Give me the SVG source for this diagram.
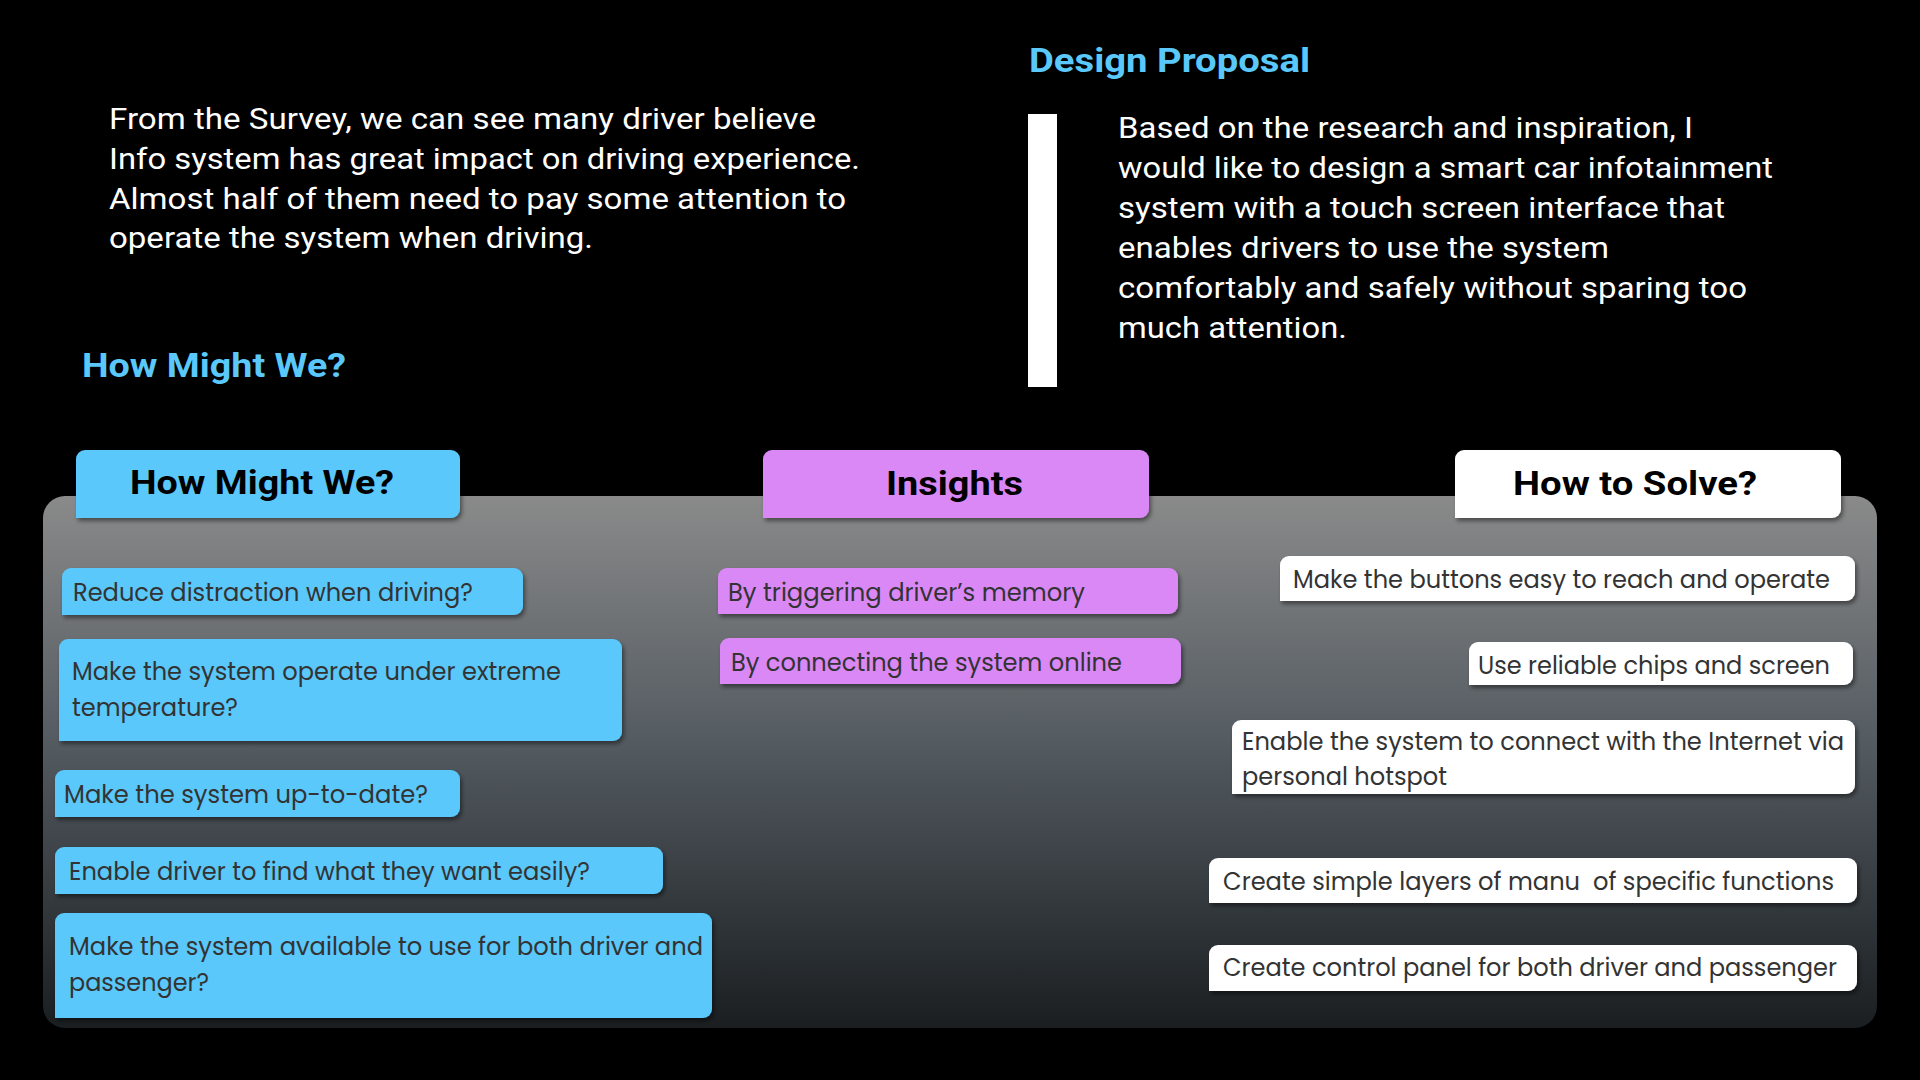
<svg xmlns="http://www.w3.org/2000/svg" width="1920" height="1080" viewBox="0 0 1920 1080">
<defs>
<linearGradient id="panelGrad" x1="0" y1="0" x2="0" y2="1">
<stop offset="0" stop-color="#8a8a8a"/>
<stop offset="0.45" stop-color="#555c62"/>
<stop offset="1" stop-color="#1a1e21"/>
</linearGradient>
<filter id="sh" x="-5%" y="-20%" width="115%" height="150%">
<feDropShadow dx="2" dy="3" stdDeviation="2" flood-color="#000" flood-opacity="0.45"/>
</filter>
</defs>
<style>
.body{font-family:"Roboto","Liberation Sans",sans-serif;font-size:29px;fill:#ffffff;font-weight:400}
.title{font-family:"Roboto","Liberation Sans",sans-serif;font-size:34px;fill:#5ac8fa;font-weight:700}
.hdr{font-family:"Roboto","Liberation Sans",sans-serif;font-size:34px;fill:#000000;font-weight:700}
.item{font-family:"Poppins","Lato","Liberation Sans",sans-serif;font-size:24px;fill:#333333}
.blue{fill:#5ac8fa}
.lilac{fill:#da88f6}
.white{fill:#ffffff}
.box{filter:url(#sh)}
</style>
<rect x="0" y="0" width="1920" height="1080" fill="#000000"/>

<g id="survey-text">
<text class="body" x="109" y="129" textLength="707" lengthAdjust="spacingAndGlyphs">From the Survey, we can see many driver believe</text>
<text class="body" x="109" y="169" textLength="751" lengthAdjust="spacingAndGlyphs">Info system has great impact on driving experience.</text>
<text class="body" x="109" y="209" textLength="737" lengthAdjust="spacingAndGlyphs">Almost half of them need to pay some attention to</text>
<text class="body" x="109" y="248" textLength="484" lengthAdjust="spacingAndGlyphs">operate the system when driving.</text>
</g>

<g id="hmw-title">
<text class="title" x="82" y="377" textLength="264" lengthAdjust="spacingAndGlyphs">How Might We?</text>
</g>

<g id="design-proposal">
<text class="title" x="1029" y="72" textLength="281" lengthAdjust="spacingAndGlyphs">Design Proposal</text>
<rect x="1028" y="114" width="29" height="273" fill="#ffffff"/>
<text class="body" x="1118" y="138" textLength="575" lengthAdjust="spacingAndGlyphs">Based on the research and inspiration, I</text>
<text class="body" x="1118" y="178" textLength="655" lengthAdjust="spacingAndGlyphs">would like to design a smart car infotainment</text>
<text class="body" x="1118" y="218" textLength="607" lengthAdjust="spacingAndGlyphs">system with a touch screen interface that</text>
<text class="body" x="1118" y="258" textLength="491" lengthAdjust="spacingAndGlyphs">enables drivers to use the system</text>
<text class="body" x="1118" y="298" textLength="629" lengthAdjust="spacingAndGlyphs">comfortably and safely without sparing too</text>
<text class="body" x="1118" y="338" textLength="229" lengthAdjust="spacingAndGlyphs">much attention.</text>
</g>

<g id="panel">
<rect x="43" y="496" width="1834" height="532" rx="22" fill="url(#panelGrad)"/>
</g>

<g id="header-hmw">
<path class="blue box" d="M76,518 V459 A9,9 0 0 1 85,450 H451 A9,9 0 0 1 460,459 V509 A9,9 0 0 1 451,518 Z"/>
<text class="hdr" x="130" y="494" textLength="264" lengthAdjust="spacingAndGlyphs">How Might We?</text>
</g>
<g id="header-insights">
<path class="lilac box" d="M763,518 V459 A9,9 0 0 1 772,450 H1140 A9,9 0 0 1 1149,459 V509 A9,9 0 0 1 1140,518 Z"/>
<text class="hdr" x="886" y="495" textLength="137" lengthAdjust="spacingAndGlyphs">Insights</text>
</g>
<g id="header-solve">
<path class="white box" d="M1455,518 V459 A9,9 0 0 1 1464,450 H1832 A9,9 0 0 1 1841,459 V509 A9,9 0 0 1 1832,518 Z"/>
<text class="hdr" x="1513" y="495" textLength="244" lengthAdjust="spacingAndGlyphs">How to Solve?</text>
</g>

<g id="hmw-1">
<path class="blue box" d="M62,615 V577 A9,9 0 0 1 71,568 H514 A9,9 0 0 1 523,577 V606 A9,9 0 0 1 514,615 Z"/>
<text class="item" x="73" y="601" textLength="400" lengthAdjust="spacingAndGlyphs">Reduce distraction when driving?</text>
</g>
<g id="hmw-2">
<path class="blue box" d="M59,741 V648 A9,9 0 0 1 68,639 H613 A9,9 0 0 1 622,648 V732 A9,9 0 0 1 613,741 Z"/>
<text class="item" x="72" y="680" textLength="489" lengthAdjust="spacingAndGlyphs">Make the system operate under extreme</text>
<text class="item" x="72" y="716" textLength="166" lengthAdjust="spacingAndGlyphs">temperature?</text>
</g>
<g id="hmw-3">
<path class="blue box" d="M55,817 V779 A9,9 0 0 1 64,770 H451 A9,9 0 0 1 460,779 V808 A9,9 0 0 1 451,817 Z"/>
<text class="item" x="64" y="803" textLength="364" lengthAdjust="spacingAndGlyphs">Make the system up-to-date?</text>
</g>
<g id="hmw-4">
<path class="blue box" d="M55,894 V856 A9,9 0 0 1 64,847 H654 A9,9 0 0 1 663,856 V885 A9,9 0 0 1 654,894 Z"/>
<text class="item" x="69" y="880" textLength="521" lengthAdjust="spacingAndGlyphs">Enable driver to find what they want easily?</text>
</g>
<g id="hmw-5">
<path class="blue box" d="M55,1018 V922 A9,9 0 0 1 64,913 H703 A9,9 0 0 1 712,922 V1009 A9,9 0 0 1 703,1018 Z"/>
<text class="item" x="69" y="955" textLength="634" lengthAdjust="spacingAndGlyphs">Make the system available to use for both driver and</text>
<text class="item" x="69" y="991" textLength="140" lengthAdjust="spacingAndGlyphs">passenger?</text>
</g>

<g id="insight-1">
<path class="lilac box" d="M718,614 V577 A9,9 0 0 1 727,568 H1169 A9,9 0 0 1 1178,577 V605 A9,9 0 0 1 1169,614 Z"/>
<text class="item" x="728" y="601" textLength="357" lengthAdjust="spacingAndGlyphs">By triggering driver’s memory</text>
</g>
<g id="insight-2">
<path class="lilac box" d="M720,684 V647 A9,9 0 0 1 729,638 H1172 A9,9 0 0 1 1181,647 V675 A9,9 0 0 1 1172,684 Z"/>
<text class="item" x="731" y="671" textLength="391" lengthAdjust="spacingAndGlyphs">By connecting the system online</text>
</g>

<g id="solve-1">
<path class="white box" d="M1280,601 V565 A9,9 0 0 1 1289,556 H1846 A9,9 0 0 1 1855,565 V592 A9,9 0 0 1 1846,601 Z"/>
<text class="item" x="1293" y="588" textLength="537" lengthAdjust="spacingAndGlyphs">Make the buttons easy to reach and operate</text>
</g>
<g id="solve-2">
<path class="white box" d="M1469,685 V651 A9,9 0 0 1 1478,642 H1844 A9,9 0 0 1 1853,651 V676 A9,9 0 0 1 1844,685 Z"/>
<text class="item" x="1478" y="674" textLength="352" lengthAdjust="spacingAndGlyphs">Use reliable chips and screen</text>
</g>
<g id="solve-3">
<path class="white box" d="M1232,794 V729 A9,9 0 0 1 1241,720 H1846 A9,9 0 0 1 1855,729 V785 A9,9 0 0 1 1846,794 Z"/>
<text class="item" x="1242" y="750" textLength="602" lengthAdjust="spacingAndGlyphs">Enable the system to connect with the Internet via</text>
<text class="item" x="1242" y="785" textLength="205" lengthAdjust="spacingAndGlyphs">personal hotspot</text>
</g>
<g id="solve-4">
<path class="white box" d="M1209,903 V867 A9,9 0 0 1 1218,858 H1848 A9,9 0 0 1 1857,867 V894 A9,9 0 0 1 1848,903 Z"/>
<text class="item" x="1223" y="890" textLength="611" lengthAdjust="spacingAndGlyphs" xml:space="preserve">Create simple layers of manu  of specific functions</text>
</g>
<g id="solve-5">
<path class="white box" d="M1209,991 V954 A9,9 0 0 1 1218,945 H1848 A9,9 0 0 1 1857,954 V982 A9,9 0 0 1 1848,991 Z"/>
<text class="item" x="1223" y="976" textLength="614" lengthAdjust="spacingAndGlyphs">Create control panel for both driver and passenger</text>
</g>

<g id="connectors"></g>
</svg>
